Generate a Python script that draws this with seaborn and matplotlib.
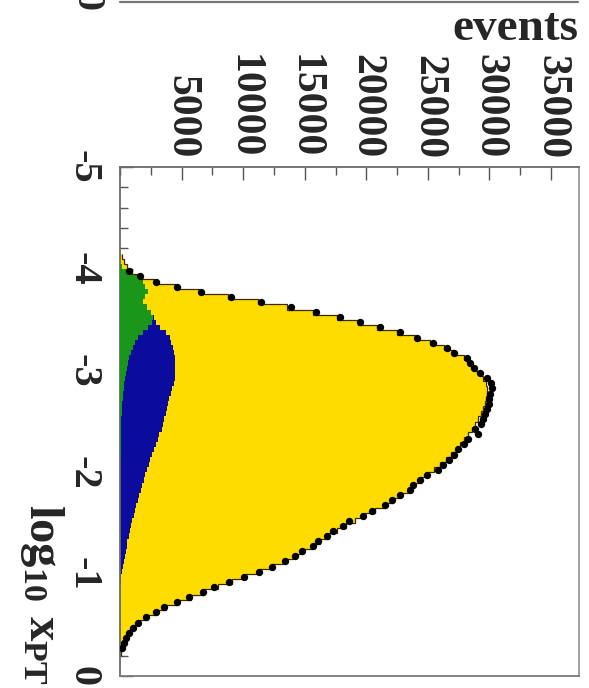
import numpy as np
import pandas as pd
import seaborn as sns
import matplotlib
matplotlib.use("Agg")
import matplotlib.pyplot as plt
from matplotlib.ticker import MultipleLocator
from matplotlib.lines import Line2D

# ---------------- data ----------------
# histogram bin grid in log10(x_PT): 79 bins of width 0.05 from -4.15 to -0.20
bin_edges = np.linspace(-4.15, -0.20, 80)
bin_centers = (bin_edges[:-1] + bin_edges[1:]) / 2

# Monte-Carlo total (yellow outline), per bin
mc_total = [150, 350, 550, 1000, 1700, 2800, 4500, 6400, 8800, 11200,
            13600, 15700, 17600, 19300, 20900, 22500, 23950, 25200, 26300, 27100,
            27900, 28400, 28800, 29200, 29500, 29700, 29800, 29800, 29750, 29650,
            29500, 29300, 29050, 28800, 28550, 28250, 27950, 27600, 27250, 26850,
            26450, 26000, 25500, 25000, 24450, 23900, 23350, 22750, 22150, 21500,
            20700, 19900, 19100, 18350, 17650, 16950, 16250, 15550, 14800, 14050,
            13250, 12350, 11350, 10250, 9100, 7950, 6850, 5750, 4700, 3700,
            2900, 2150, 1500, 1000, 620, 380, 220, 120, 50]

# green component (bottom of stack)
mc_green = [0, 0, 200, 700, 1400, 1850, 2000, 2250, 2000, 1900,
            2200, 2500, 2700, 2600, 2300, 1850, 1500, 1250, 1050, 880,
            750, 640, 560, 490, 420, 360, 300, 260, 220, 190,
            160, 140, 120, 100, 90, 80, 70, 60, 50, 45,
            40, 35, 30, 25, 20, 18, 15, 12, 10, 8,
            6, 5, 4, 3, 2, 1, 0, 0, 0, 0,
            0, 0, 0, 0, 0, 0, 0, 0, 0, 0,
            0, 0, 0, 0, 0, 0, 0, 0, 0]

# blue component (stacked on green)
mc_blue = [0, 0, 0, 0, 0, 0, 0, 0, 0, 0,
           0, 0, 50, 340, 960, 1900, 2530, 2910, 3270, 3520,
           3730, 3840, 3920, 3990, 4020, 4000, 3940, 3855, 3775, 3720,
           3670, 3570, 3470, 3400, 3295, 3100, 3030, 2880, 2685, 2530,
           2410, 2295, 2137, 2020, 1904, 1784, 1665, 1546, 1427, 1307,
           1228, 1107, 986, 906, 826, 705, 584, 544, 463, 381,
           300, 260, 180, 100, 50, 20, 0, 0, 0, 0,
           0, 0, 0, 0, 0, 0, 0, 0, 0]

# data points (black dots) at bin centres -3.975 ... -0.275
data_events = [700, 1600, 2900, 4650, 6600, 9000, 11450, 13850, 15900, 17850,
               19450, 21100, 22700, 24150, 25400, 26550, 27150, 28150, 28400, 28750,
               29250, 29800, 30100, 30200, 30050, 30000, 30000, 29800, 29650, 29450,
               29350, 28800, 29050, 28250, 27900, 27450, 27100, 26700, 26250, 25800,
               24950, 24350, 23800, 23550, 22750, 22050, 21500, 20450, 19750, 18600,
               18100, 17300, 16800, 16100, 15700, 14800, 14200, 13400, 12350, 11250,
               10100, 8850, 7650, 6750, 5600, 4650, 3600, 2900, 2150, 1500,
               1050, 700, 450, 300, 200]
data_centers = bin_centers[3:78]

event_ticks = [5000, 10000, 15000, 20000, 25000, 30000, 35000]
event_labels = ["5000", "10000", "15000", "20000", "25000", "30000", "35000"]
logx_ticks = [-5, -4, -3, -2, -1, 0]
logx_labels = ["-5", "-4", "-3", "-2", "-1", "0"]

# ---------------- style ----------------
sns.set_theme(style="white")
plt.rcParams["font.family"] = ["Liberation Serif", "DejaVu Serif"]
plt.rcParams["font.weight"] = "bold"
plt.rcParams["mathtext.fontset"] = "custom"
plt.rcParams["mathtext.rm"] = "Liberation Serif:bold"
plt.rcParams["mathtext.bf"] = "Liberation Serif:bold"
plt.rcParams["mathtext.it"] = "Liberation Serif:bold"

W, H = 589, 688
fig = plt.figure(figsize=(W / 100, H / 100), dpi=100)
fig.patch.set_facecolor("white")
ax = fig.add_axes([120 / W, 1 - 676 / H, (578.5 - 120) / W, (676 - 167) / H])
ax.set_facecolor("white")

YELLOW = "#ffdc00"
BLUE = "#0b0b9e"
GREEN = "#1a961a"
EDGE = "#3d2b00"

total = np.array(mc_total, dtype=float)
green = np.array(mc_green, dtype=float)
blue_cum = green + np.array(mc_blue, dtype=float)

ax.stairs(total, bin_edges, orientation="horizontal", baseline=0, fill=True,
          color=YELLOW, zorder=1)
ax.stairs(blue_cum, bin_edges, orientation="horizontal", baseline=0, fill=True,
          color=BLUE, zorder=2)
ax.stairs(green, bin_edges, orientation="horizontal", baseline=0, fill=True,
          color=GREEN, zorder=3)
ax.stairs(total, bin_edges, orientation="horizontal", baseline=None,
          color=EDGE, lw=0.9, zorder=4)

df = pd.DataFrame({"events": data_events, "logx": data_centers})
sns.scatterplot(data=df, x="events", y="logx", color="black", s=28,
                linewidth=0, zorder=5, ax=ax, legend=False)

ax.set_xlim(0, 37230)
ax.set_ylim(0, -5)
ax.set_xlabel("")
ax.set_ylabel("")

# events axis on top
ax.xaxis.set_ticks_position("top")
ax.set_xticks(event_ticks)
ax.set_xticklabels(event_labels, rotation=270, fontsize=30, fontweight="bold",
                   va="bottom", ha="center")
ax.xaxis.set_minor_locator(MultipleLocator(2500))
ax.tick_params(axis="x", which="both", direction="in", top=True, bottom=False,
               labeltop=True, labelbottom=False, color="#555555", width=1.0)
ax.tick_params(axis="x", which="major", length=9.5, pad=6)
ax.tick_params(axis="x", which="minor", length=5.5)

# log10 x axis on the left
ax.set_yticks(logx_ticks)
ax.set_yticklabels(logx_labels, rotation=270, fontsize=29, fontweight="bold",
                   va="center", ha="right")
ax.yaxis.set_minor_locator(MultipleLocator(0.2))
ax.tick_params(axis="y", which="both", direction="in", left=True, right=False,
               color="#555555", width=1.0)
ax.tick_params(axis="y", which="major", length=9, pad=13)
ax.tick_params(axis="y", which="minor", length=5.5)

for side, sp in ax.spines.items():
    sp.set_visible(True)
    sp.set_linewidth(1.3)
    sp.set_color("#6a6a6a")
ax.spines["right"].set_color("#9a9a9a")
ax.spines["bottom"].set_color("#7a7a7a")

# axis titles
fig.text(578 / W, 1 - 50 / H, "events", ha="right", va="bottom",
         fontsize=34, fontweight="bold")
fig.text(42 / W, 1 - 685 / H, r"$\mathbf{log_{10}\ x_{PT}}$", rotation=270,
         ha="center", va="bottom", fontsize=35)

# remnants of the neighbouring panel at the very top
fig.add_artist(Line2D([120 / W, 578 / W], [1 - 1.5 / H, 1 - 1.5 / H],
                      color="#777777", lw=1.6))
fig.text(86 / W, 1 - 11 / H, "0", rotation=270, ha="center", va="bottom",
         fontsize=29, fontweight="bold")

fig.savefig("out.png", dpi=100, facecolor="white")
